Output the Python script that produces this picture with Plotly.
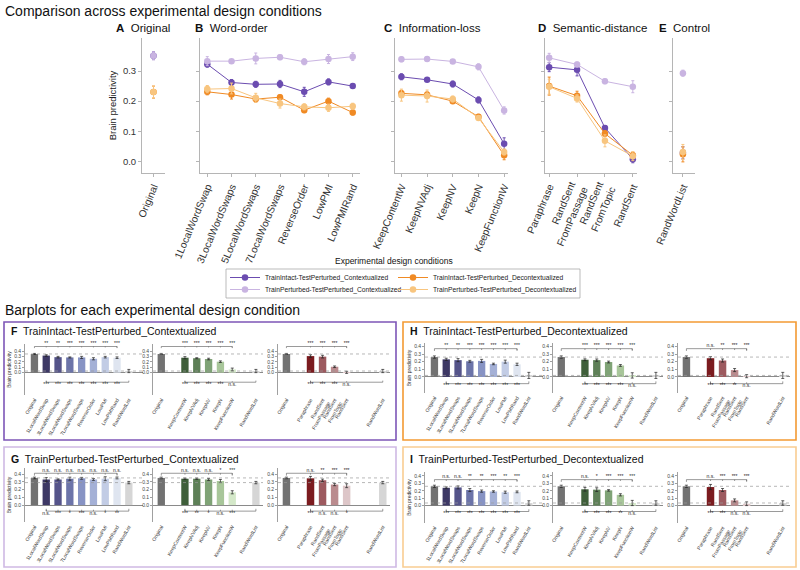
import plotly.graph_objects as go

W, H = 800, 570

# ---- categories ----
word_order = ["1LocalWordSwap", "3LocalWordSwaps", "5LocalWordSwaps", "7LocalWordSwaps",
              "ReverseOrder", "LowPMI", "LowPMIRand"]
info_loss = ["KeepContentW", "KeepNVAdj", "KeepNV", "KeepN", "KeepFunctionW"]
sem_dist = ["Paraphrase", "RandSent<br>FromPassage", "RandSent<br>FromTopic", "RandSent"]
original = ["Original"]
control = ["RandWordList"]
top_groups = [original, word_order, info_loss, sem_dist, control]

series_names = ["TrainIntact-TestPerturbed_Contextualized",
                "TrainIntact-TestPerturbed_Decontextualized",
                "TrainPerturbed-TestPerturbed_Contextualized",
                "TrainPerturbed-TestPerturbed_Decontextualized"]

# ---- top panels (A..E), order: Original | word-order | info-loss | semantic | control ----
intact_ctx = [0.351, 0.323, 0.262, 0.256, 0.257, 0.231, 0.264, 0.250,
              0.281, 0.271, 0.257, 0.204, 0.058, 0.313, 0.304, 0.111, 0.007, 0.028]
intact_ctx_err = [0.013, 0.010, 0.010, 0.010, 0.012, 0.015, 0.010, 0.008,
                  0.010, 0.006, 0.010, 0.010, 0.020, 0.015, 0.020, 0.008, 0.012, 0.020]
intact_dec = [0.230, 0.231, 0.222, 0.207, 0.213, 0.170, 0.200, 0.162,
              0.226, 0.221, 0.200, 0.148, 0.020, 0.250, 0.218, 0.092, 0.020, 0.023]
intact_dec_err = [0.020, 0.010, 0.015, 0.010, 0.008, 0.008, 0.010, 0.008,
                  0.010, 0.010, 0.008, 0.008, 0.015, 0.030, 0.015, 0.010, 0.010, 0.025]
perturbed_ctx = [0.351, 0.333, 0.333, 0.342, 0.346, 0.331, 0.340, 0.348,
                 0.339, 0.340, 0.332, 0.314, 0.169, 0.344, 0.322, 0.266, 0.248, 0.293]
perturbed_ctx_err = [0.013, 0.015, 0.005, 0.018, 0.008, 0.010, 0.015, 0.013,
                     0.008, 0.008, 0.006, 0.010, 0.012, 0.015, 0.008, 0.008, 0.020, 0.010]
perturbed_dec = [0.230, 0.240, 0.242, 0.211, 0.192, 0.181, 0.178, 0.183,
                 0.220, 0.217, 0.207, 0.144, 0.031, 0.248, 0.209, 0.068, 0.017, 0.031]
perturbed_dec_err = [0.020, 0.012, 0.018, 0.015, 0.015, 0.010, 0.012, 0.010,
                     0.020, 0.020, 0.010, 0.008, 0.010, 0.025, 0.012, 0.020, 0.015, 0.025]

# ---- bar panels, order: Original | word-order(7) | info-loss(5) | semantic(4) | RandWordList ----
bars_F = [0.35, 0.32, 0.29, 0.285, 0.285, 0.26, 0.29, 0.28,
          0.28, 0.27, 0.255, 0.205, 0.06, 0.31, 0.30, 0.11, 0.005, 0.03]
err_F = [0.01, 0.015, 0.015, 0.01, 0.02, 0.02, 0.015, 0.015,
         0.02, 0.01, 0.015, 0.015, 0.025, 0.025, 0.025, 0.015, 0.02, 0.03]
sig_top_F = ["**", "**", "***", "***", "***", "***", "***",
             "***", "***", "***", "***", "***", "***", "***", "***", "***"]
sig_bot_F = ["***", "***", "***", "***", "***", "***", "***",
             "***", "***", "***", "***", "n.s.", "***", "***", "***", "n.s."]

bars_H = [0.26, 0.23, 0.22, 0.205, 0.21, 0.17, 0.20, 0.165,
          0.225, 0.22, 0.195, 0.15, 0.02, 0.245, 0.215, 0.09, 0.01, 0.02]
err_H = [0.015, 0.015, 0.02, 0.012, 0.02, 0.01, 0.02, 0.015,
         0.012, 0.015, 0.012, 0.012, 0.035, 0.02, 0.02, 0.02, 0.02, 0.04]
sig_top_H = ["**", "**", "***", "***", "***", "***", "***",
             "***", "***", "***", "***", "***", "n.s.", "**", "***", "***"]
sig_bot_H = ["***", "***", "***", "***", "***", "***", "***",
             "***", "***", "***", "***", "n.s.", "***", "***", "**", "n.s."]

bars_G = [0.35, 0.33, 0.33, 0.34, 0.345, 0.33, 0.34, 0.35,
          0.34, 0.34, 0.33, 0.31, 0.165, 0.345, 0.32, 0.265, 0.25, 0.29]
err_G = [0.01, 0.025, 0.008, 0.02, 0.012, 0.012, 0.025, 0.012,
         0.008, 0.008, 0.012, 0.02, 0.02, 0.025, 0.015, 0.015, 0.025, 0.015]
sig_top_G = ["n.s.", "n.s.", "n.s.", "n.s.", "n.s.", "n.s.", "n.s.",
             "n.s.", "n.s.", "n.s.", "*", "***", "n.s.", "**", "***", "***"]
sig_bot_G = ["n.s.", "***", "*", "***", "n.s.", "*", "**",
             "***", "**", "*", "n.s.", "***", "***", "n.s.", "n.s.", "*"]

bars_I = [0.26, 0.24, 0.245, 0.21, 0.195, 0.19, 0.18, 0.185,
          0.22, 0.215, 0.205, 0.145, 0.035, 0.25, 0.21, 0.07, 0.025, 0.035]
err_I = [0.015, 0.012, 0.02, 0.02, 0.015, 0.01, 0.015, 0.012,
         0.025, 0.025, 0.01, 0.015, 0.035, 0.035, 0.02, 0.02, 0.025, 0.03]
sig_top_I = ["n.s.", "n.s.", "**", "**", "***", "**", "***",
             "n.s.", "*", "***", "***", "***", "n.s.", "***", "***", "***"]
sig_bot_I = ["***", "***", "***", "***", "***", "***", "***",
             "***", "***", "***", "**", "n.s.", "***", "***", "n.s.", "n.s."]

# ---- styling ----
FONT = "Arial, Liberation Sans, sans-serif"
series_colors = ["#6b4cb0", "#f08a24", "#c9b4e1", "#f8c57f"]
orig_color = "#727272"
rwl_color = "#d6d6d6"
wo_colors = ["#3d3865", "#55548a", "#6c74a9", "#8793c4", "#a4b0d6", "#c2cce5", "#dfe5f0"]
il_colors = ["#3f5f3a", "#5e8057", "#7fa376", "#a8c69a", "#d4e8c9"]
sd_colors = ["#7b1b1f", "#9d5a5f", "#ba8b8e", "#ddc6c8"]
SMALL = 5.0

fig = go.Figure()
layout = {}
shapes = []
annotations = []


def xa(n):
    return "x" if n == 1 else "x%d" % n


def ya(n):
    return "y" if n == 1 else "y%d" % n


def lay_key(kind, n):
    return kind + ("" if n == 1 else str(n))


def dom_x(p0, p1):
    return [p0 / W, p1 / W]


def dom_y(p0, p1):
    return [1 - p1 / H, 1 - p0 / H]


# ================= top panels =================
top_x_px = [(142, 165), (200, 360), (395, 508), (545, 637), (673, 695)]
top_xrange = [(-0.5, 0.5), (-0.3, 6.3), (-0.25, 4.15), (-0.15, 3.15), (-0.45, 0.55)]
all_series = [(intact_ctx, intact_ctx_err), (intact_dec, intact_dec_err),
              (perturbed_ctx, perturbed_ctx_err), (perturbed_dec, perturbed_dec_err)]
# one single-item legend per entry so the 2x2 grid can be placed exactly
legend_ids = ["legend", "legend2", "legend3", "legend4"]
legend_pos = [(225, 277.5), (393, 277.5), (225, 289.5), (393, 289.5)]

start = 0
for p, cats in enumerate(top_groups):
    n = p + 1
    stop = start + len(cats)
    for s, (vals, errs) in enumerate(all_series):
        col = series_colors[s]
        fig.add_trace(go.Scatter(
            x=cats, y=vals[start:stop], mode="lines+markers",
            error_y=dict(type="data", array=errs[start:stop], color=col, thickness=1, width=1.5),
            line=dict(color=col, width=1), marker=dict(color=col, size=6.5),
            name=series_names[s], showlegend=(p == 1), legend=legend_ids[s],
            xaxis=xa(n), yaxis=ya(n), cliponaxis=False))
    start = stop
    layout[lay_key("xaxis", n)] = dict(
        domain=dom_x(*top_x_px[p]), anchor=ya(n), type="category",
        categoryorder="array", categoryarray=cats, range=list(top_xrange[p]),
        showline=True, linecolor="#b5b5b5", ticks="outside", ticklen=3, tickcolor="#b5b5b5",
        tickangle=-67, tickfont=dict(size=10.2, color="#333"), showgrid=False, zeroline=False)
    layout[lay_key("yaxis", n)] = dict(
        domain=dom_y(38, 173), anchor=xa(n), range=[-0.039, 0.41],
        tickvals=[0, 0.1, 0.2, 0.3], ticktext=["0.0", "0.1", "0.2", "0.3"],
        showticklabels=(p == 0), showline=True, linecolor="#b5b5b5", ticks="outside",
        ticklen=3, tickcolor="#b5b5b5", tickfont=dict(size=9.5, color="#333"),
        showgrid=False, zeroline=False,
        title=dict(text="Brain predictivity" if p == 0 else "", font=dict(size=9.5, color="#222"),
                   standoff=4))

panel_titles = [("A", "Original", 114), ("B", "Word-order", 193), ("C", "Information-loss", 382),
                ("D", "Semantic-distance", 536), ("E", "Control", 657)]
for letter, txt, xp in panel_titles:
    annotations.append(dict(text="<b>%s</b>  %s" % (letter, txt), x=xp / W, y=1 - 28 / H,
                            xref="paper", yref="paper", xanchor="left", yanchor="middle",
                            showarrow=False, font=dict(size=11.5, color="#111")))

annotations.append(dict(text="Experimental design conditions", x=394 / W, y=1 - 261 / H,
                        xref="paper", yref="paper", xanchor="center", yanchor="middle",
                        showarrow=False, font=dict(size=8.5, color="#111")))
annotations.append(dict(text="Comparison across experimental design conditions", x=3 / W,
                        y=1 - 11 / H, xref="paper", yref="paper", xanchor="left",
                        yanchor="middle", showarrow=False, font=dict(size=14, color="#111")))
annotations.append(dict(text="Barplots for each experimental design condition", x=3 / W,
                        y=1 - 310 / H, xref="paper", yref="paper", xanchor="left",
                        yanchor="middle", showarrow=False, font=dict(size=14, color="#111")))

# legend frame
shapes.append(dict(type="rect", xref="paper", yref="paper", x0=226 / W, x1=580 / W,
                   y0=1 - 298 / H, y1=1 - 269 / H, line=dict(color="#aaaaaa", width=0.8)))

# ================= bar panels =================
panels = [
    # letter, title, values, errs, sig_top, sig_bot, x offset, y dom px, y range, top line, bottom line, box colour, box px, title y
    ("F", "TrainIntact-TestPerturbed_Contextualized", bars_F, err_F, sig_top_F, sig_bot_F,
     0, (344, 395), (-0.42, 0.537), 0.49, -0.18, "#7d56b7", (4, 322, 396, 440), 331),
    ("H", "TrainIntact-TestPerturbed_Decontextualized", bars_H, err_H, sig_top_H, sig_bot_H,
     400, (343, 393), (-0.21, 0.444), 0.37, -0.088, "#f39a33", (403, 322, 796, 440), 331),
    ("G", "TrainPerturbed-TestPerturbed_Contextualized", bars_G, err_G, sig_top_G, sig_bot_G,
     0, (468, 522), (-0.218, 0.478), 0.41, -0.078, "#cfb9e4", (4, 447, 396, 567), 459),
    ("I", "TrainPerturbed-TestPerturbed_Decontextualized", bars_I, err_I, sig_top_I, sig_bot_I,
     400, (472, 523), (-0.235, 0.453), 0.35, -0.08, "#f9cd92", (403, 447, 796, 567), 459),
]
sub_x_px = [(25, 143), (153, 263), (278, 390)]
sub_xrange = [(-0.8, 9.2), (-0.7, 8.6), (-0.7, 8.6)]

n = 6
for (letter, title, vals, errs, stop_sig, sbot_sig, xoff, ydom, yr, top_line, bot_line,
     boxcol, box, title_y) in panels:
    shapes.append(dict(type="rect", xref="paper", yref="paper", x0=box[0] / W, x1=box[2] / W,
                       y0=1 - box[3] / H, y1=1 - box[1] / H, line=dict(color=boxcol, width=1.6)))
    annotations.append(dict(text="<b>%s</b>  %s" % (letter, title), x=(box[0] + 5) / W,
                            y=1 - title_y / H, xref="paper", yref="paper", xanchor="left",
                            yanchor="middle", showarrow=False, font=dict(size=10.5, color="#111")))
    orig_v, orig_e = vals[0], errs[0]
    rwl_v, rwl_e = vals[-1], errs[-1]
    groups = [
        (word_order, vals[1:8], errs[1:8], wo_colors, stop_sig[0:7], sbot_sig[0:7],
         ["Original"] + word_order + ["RandWordList"]),
        (info_loss, vals[8:13], errs[8:13], il_colors, stop_sig[7:12], sbot_sig[7:12],
         ["Original", " "] + info_loss + ["  ", "RandWordList"]),
        (sem_dist, vals[13:17], errs[13:17], sd_colors, stop_sig[12:16], sbot_sig[12:16],
         ["Original", " "] + sem_dist + ["  ", "   ", "RandWordList"]),
    ]
    tick = 0.03
    for k, (cats, gv, ge, gc, st, sb, catarr) in enumerate(groups):
        bx = ["Original"] + cats + ["RandWordList"]
        fig.add_trace(go.Bar(
            x=bx, y=[orig_v] + list(gv) + [rwl_v],
            error_y=dict(type="data", array=[orig_e] + list(ge) + [rwl_e], color="#222",
                         thickness=0.7, width=1.5),
            marker=dict(color=[orig_color] + gc + [rwl_color], line=dict(width=0)),
            width=0.62, showlegend=False, xaxis=xa(n), yaxis=ya(n), hoverinfo="skip"))
        # significance brackets: vs Original (top) and vs RandWordList (bottom)
        lx, ly = [], []
        lx += ["Original", "Original", cats[-1], cats[-1], None]
        ly += [top_line - tick, top_line, top_line, top_line - tick, None]
        for c in cats:
            lx += [c, c, None]
            ly += [top_line, top_line - tick * 0.6, None]
        lx += [cats[0], cats[0], "RandWordList", "RandWordList", None]
        ly += [bot_line + tick, bot_line, bot_line, bot_line + tick, None]
        for c in cats:
            lx += [c, c, None]
            ly += [bot_line, bot_line + tick * 0.6, None]
        fig.add_trace(go.Scatter(x=lx, y=ly, mode="lines", line=dict(color="#555", width=0.6),
                                 showlegend=False, hoverinfo="skip", xaxis=xa(n), yaxis=ya(n)))
        fig.add_trace(go.Scatter(x=cats, y=[top_line] * len(cats), mode="text", text=st,
                                 textposition="top center", textfont=dict(size=SMALL, color="#222"),
                                 cliponaxis=False, showlegend=False, hoverinfo="skip",
                                 xaxis=xa(n), yaxis=ya(n)))
        fig.add_trace(go.Scatter(x=cats, y=[bot_line] * len(cats), mode="text", text=sb,
                                 textposition="bottom center", textfont=dict(size=SMALL, color="#222"),
                                 cliponaxis=False, showlegend=False, hoverinfo="skip",
                                 xaxis=xa(n), yaxis=ya(n)))
        for ref_v in (orig_v, rwl_v):
            shapes.append(dict(type="line", xref=xa(n) + " domain", yref=ya(n), x0=0, x1=1,
                               y0=ref_v, y1=ref_v, line=dict(color="#9a9a9a", width=0.7, dash="dot")))
        px0, px1 = sub_x_px[k]
        layout[lay_key("xaxis", n)] = dict(
            domain=dom_x(px0 + xoff, px1 + xoff), anchor=ya(n), type="category",
            categoryorder="array", categoryarray=catarr, range=list(sub_xrange[k]),
            showline=False, ticks="", tickangle=-60, tickfont=dict(size=SMALL, color="#444"),
            showgrid=False, zeroline=False)
        layout[lay_key("yaxis", n)] = dict(
            domain=dom_y(*ydom), anchor=xa(n), range=list(yr),
            tickvals=[0, 0.1, 0.2, 0.3, 0.4], ticktext=["0.0", "0.1", "0.2", "0.3", "0.4"],
            showline=True, linecolor="#a0a0a0", linewidth=0.8, ticks="outside", ticklen=2,
            tickcolor="#a0a0a0", tickfont=dict(size=SMALL, color="#444"), showgrid=False,
            zeroline=True, zerolinecolor="#8a8a8a", zerolinewidth=1,
            title=dict(text="Brain predictivity" if k == 0 else "",
                       font=dict(size=SMALL, color="#333"), standoff=2))
        n += 1

for lid, (lx_px, ly_px) in zip(legend_ids, legend_pos):
    layout[lid] = dict(orientation="h", x=lx_px / W, y=1 - ly_px / H, xanchor="left",
                       yanchor="middle", font=dict(size=6.7, color="#222"),
                       bgcolor="rgba(0,0,0,0)", itemwidth=30)

fig.update_layout(
    width=W, height=H, margin=dict(l=0, r=0, t=0, b=0, autoexpand=False),
    paper_bgcolor="white", plot_bgcolor="white",
    font=dict(family=FONT, color="#222"),
    bargap=0.38, shapes=shapes, annotations=annotations,
    **layout,
)

# page body has a default 8px margin; remove it so the figure fills the window
fig.write_html("out.html", config={"displayModeBar": False},
               post_script="document.body.style.margin='0';")
